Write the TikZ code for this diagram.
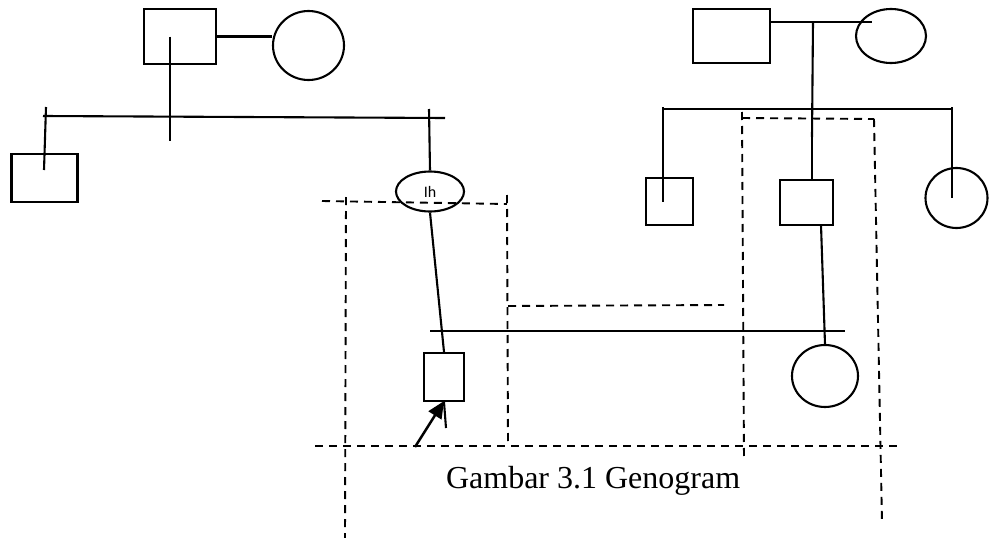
\documentclass[tikz,border=0pt]{standalone}
\usepackage{fontspec}
\setmainfont{Liberation Serif}
\newfontfamily\smalllabel{Carlito}
\usetikzlibrary{shapes.geometric,arrows.meta}
\begin{document}
\begin{tikzpicture}[x=1pt,y=-1pt,line width=2.1pt,
  person/.style={draw,inner sep=0pt,line width=2.1pt},
  male/.style={person,rectangle},
  female/.style={person,ellipse},
  link/.style={line width=2.1pt},
  zone/.style={line width=1.9pt,dash pattern=on 8pt off 6pt},
  caption/.style={font=\fontsize{32}{38}\selectfont,inner sep=0pt,anchor=base west}]
\useasboundingbox (0,0) rectangle (989,538);

% ---- left family ----
\node[male,minimum width=72,minimum height=55] (lfather) at (180,36.5) {};
\node[female,minimum width=71,minimum height=69] (lmother) at (308.5,45.5) {};
\node[male,minimum width=66,minimum height=48] (lson) at (44.5,178) {};
\node[female,minimum width=68,minimum height=40,font=\smalllabel\fontsize{16}{18}\selectfont] (ih) at (430,191.5) {Ih};

\coordinate (ldrop) at (170,141);
\coordinate (lsibA) at (43,116);
\coordinate (lsibB) at (445,118);
\coordinate (ltickTop) at (46,107);
\coordinate (ltickBot) at (44,170);
\coordinate (rtickTop) at (429,109);

\draw[link] (lfather.east) -- (lmother.west |- lfather.east);
\draw[link] (ldrop |- lfather.center) -- (ldrop);
\draw[link] (lsibA) -- (lsibB);
\draw[link] (ltickTop) -- (ltickBot);
\draw[link] (rtickTop) -- (ih.north);

% ---- right family ----
\node[male,minimum width=77,minimum height=54] (rfather) at (731.5,36) {};
\node[female,minimum width=70,minimum height=54] (rmother) at (891,36) {};
\node[male,minimum width=47,minimum height=47] (rson1) at (669.5,201.5) {};
\node[male,minimum width=53,minimum height=45] (rson2) at (806.5,202.5) {};
\node[female,minimum width=62,minimum height=60] (rdaughter) at (956.5,198) {};

\coordinate (rmarR) at (872,22);
\coordinate (rdropTop) at (813,22);
\coordinate (rdropMid) at (812,137);
\coordinate (rsibA) at (663,109);
\coordinate (rsibB) at (952,109);
\coordinate (rsibTickA) at (663,107);
\coordinate (rsibTickB) at (952,107);

\draw[link] (rfather.east |- rmarR) -- (rmarR);
\draw[link] (rdropTop) -- (rdropMid);
\draw[link] (812,135) -- (rson2.north -| rdropMid);
\draw[link] (rsibA) -- (rsibB);
\draw[link] (rsibTickA) -- (rsibTickA |- rson1.center);
\draw[link] (rsibTickB) -- (rsibTickB |- rdaughter.center);

% ---- the couple and their child ----
\node[male,minimum width=40,minimum height=48] (patient) at (444,377) {};
\node[female,minimum width=66,minimum height=62] (wife) at (825,376) {};

\coordinate (marA) at (430,331);
\coordinate (marB) at (845,331);
\coordinate (son2foot) at (821,225);
\coordinate (stem) at (446,428);
\coordinate (arrowTail) at (415,447);

\draw[link] (ih.south) -- (patient.north);
\draw[link] (marA) -- (marB);
\draw[link] (son2foot) -- (wife.north);
\draw[link] (patient.south) -- (stem);
\draw[line width=2.5pt,-{Triangle[length=17pt,width=15pt]}] (arrowTail) -- ([yshift=1pt]patient.south);

% ---- household boundaries ----
\draw[zone] (322,201) -- (507,204);
\draw[zone] (346,197) -- (345,538);
\draw[zone] (507,195) -- (508,444);
\draw[zone] (508,306) -- (724,305);
\draw[zone] (315,446) -- (900,446);
\draw[zone] (742,112) -- (744,460);
\draw[zone] (742,118) -- (874,119);
\draw[zone] (874,119) -- (882,522);

% ---- caption ----
\node[caption] (cap) at (445,488) {Gambar 3.1 Genogram};
\end{tikzpicture}
\end{document}
